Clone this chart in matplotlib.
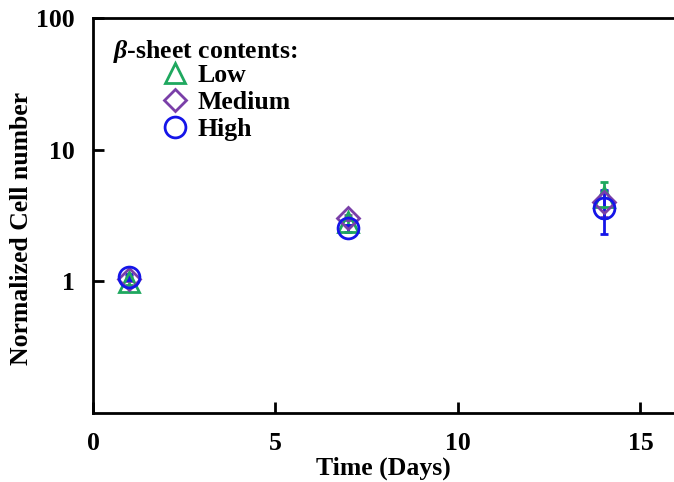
import numpy as np
import matplotlib
matplotlib.use("Agg")
import matplotlib.pyplot as plt
from matplotlib.ticker import FixedLocator, NullLocator, FixedFormatter

plt.rcParams['font.family'] = ['Liberation Serif', 'DejaVu Serif']
plt.rcParams['font.weight'] = 'bold'
plt.rcParams['mathtext.fontset'] = 'custom'
plt.rcParams['mathtext.it'] = 'Liberation Serif:italic:bold'
plt.rcParams['mathtext.rm'] = 'Liberation Serif:bold'

FS = 18.5

# data
days = [1, 7, 14]
low = [0.98, 2.81, 4.35]
low_err = [0.05, 0.15, 1.31]
medium = [1.05, 3.05, 3.98]
medium_err = [0.05, 0.15, 0.9]
high = [1.08, 2.53, 3.59]
high_err = [0.06, 0.15, 1.31]

series = [
    ("Low", low, low_err, "^", "#1fa85f", 15),
    ("Medium", medium, medium_err, "D", "#7a3fa8", 11),
    ("High", high, high_err, "o", "#1515e8", 15),
]

fig = plt.figure(figsize=(6.74, 4.82), dpi=100)
ax = fig.add_axes([93 / 674, 69 / 482, 581 / 674, 395 / 482])

handles = []
for name, vals, errs, mk, col, ms in series:
    ax.errorbar(days, vals, yerr=errs, fmt='none', ecolor=col, elinewidth=2,
                capsize=3, capthick=2, zorder=2)
    h, = ax.plot(days, vals, linestyle='none', marker=mk, markersize=ms,
                 markerfacecolor='none', markeredgecolor=col,
                 markeredgewidth=2, label=name, zorder=3)
    handles.append(h)

ax.set_yscale('log')
ax.set_ylim(0.1, 100)
ax.set_xlim(0, 15.92)
ax.yaxis.set_major_locator(FixedLocator([1, 10, 100]))
ax.yaxis.set_major_formatter(FixedFormatter(['1', '10', '100']))
ax.yaxis.set_minor_locator(NullLocator())
ax.set_xticks([0, 5, 10, 15])

ax.tick_params(direction='in', length=8, width=2, labelsize=FS)
ax.tick_params(axis='y', pad=13)
ax.tick_params(axis='x', pad=14)
for side in ['left', 'bottom', 'top']:
    ax.spines[side].set_linewidth(2)
ax.spines['right'].set_visible(False)

ax.set_xlabel("Time (Days)", fontsize=FS, fontweight='bold', labelpad=1)
ax.set_ylabel("Normalized Cell number", fontsize=FS, fontweight='bold')
ax.yaxis.set_label_coords(-0.104, 0.468)

ax.text(0.034, 0.916, r"$\beta$-sheet contents:", transform=ax.transAxes,
        fontsize=FS, fontweight='bold', va='center', ha='left')
ax.legend(handles=handles, loc='upper left', bbox_to_anchor=(0.115, 0.884),
          frameon=False, fontsize=FS, borderpad=0, handletextpad=0.26,
          labelspacing=0.15, handlelength=1.2, borderaxespad=0)

fig.savefig("out.png", dpi=100)
